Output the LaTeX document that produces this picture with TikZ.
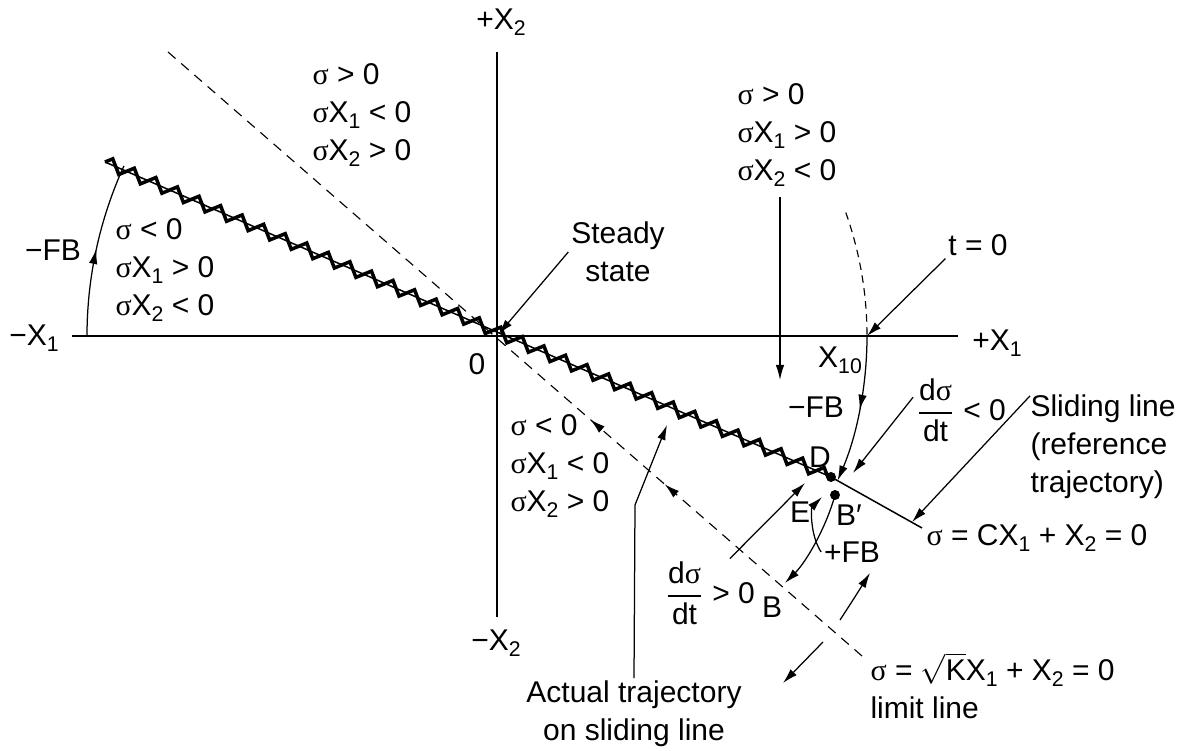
\documentclass[tikz,border=0pt]{standalone}
\usepackage{amsmath}
\usepackage{fontspec}
\setmainfont{Liberation Sans}
\newfontfamily\greekfont{Liberation Serif}
\usetikzlibrary{arrows.meta,decorations.pathmorphing,decorations.markings}
\newcommand{\gs}{{\greekfont σ}}
\newcommand{\lo}[1]{\raisebox{-2.4pt}{\fontsize{8.5}{8.5}\selectfont #1}}
\newcommand{\dsdt}{$\dfrac{\mbox{d\gs}}{\mbox{dt}}$}

\begin{document}
\begin{tikzpicture}[x=0.4pt,y=-0.4pt,>={Latex[length=6pt,width=3.4pt]},
every node/.style={font=\fontsize{12}{15.2}\selectfont,inner sep=1pt},
lbl/.style={align=left,anchor=west,inner sep=0pt},
axis/.style={line width=0.6pt},
conn/.style={->,line width=0.5pt},
limitline/.style={dash pattern=on 4pt off 3pt,line width=0.45pt},
slide/.style={line width=1.4pt,line join=miter,decorate,decoration={zigzag,segment length=9.4pt,amplitude=2.4pt}},
midarrow/.style={postaction={decorate,decoration={markings,mark=at position #1 with {\arrow{>}}}}},
dot/.style={circle,fill,inner sep=0pt,minimum size=4pt}]
\useasboundingbox (0,0) rectangle (1192,751);
\coordinate (O) at (497,336);
% axes
\draw[axis] (72,336) -- (958,336);
\draw[axis] (497,52) -- (497,617);
\node (xneg) at (34,338) {−X\lo{1}};
\node (xpos) at (997,343) {+X\lo{1}};
\node (ypos) at (501,22) {+X\lo{2}};
\node (yneg) at (496,643) {−X\lo{2}};
\node (zero) at (477,364) {0};
\node (xten) at (840,360) {X\lo{10}};
% limit line and sliding line
\coordinate (Lt) at (168,52); \coordinate (Lb) at (862,656);
\draw[limitline,postaction={decorate,decoration={markings,
  mark=at position 0.625 with {\arrow{<}},mark=at position 0.732 with {\arrow{<}}}}] (Lt) -- (Lb);
\coordinate (Zs) at (105,162); \coordinate (D) at (831,477); \coordinate (Se) at (922,528);
\draw[slide] (Zs) -- (D);
\draw[line width=0.6pt] (Zs) -- (D);
\draw[line width=0.6pt] (D) -- (Se);
\coordinate (Bp) at (835,495);
\node[dot] (Ddot) at (D) {};
\node[dot] (Bpdot) at (Bp) {};
% regions
\node[lbl] (qa) at (312,115) {\gs{} > 0\\\gs X\lo{1} < 0\\\gs X\lo{2} > 0};
\node[lbl] (qb) at (115,270) {\gs{} < 0\\\gs X\lo{1} > 0\\\gs X\lo{2} < 0};
\node[lbl] (qc) at (737,135) {\gs{} > 0\\\gs X\lo{1} > 0\\\gs X\lo{2} < 0};
\node[lbl] (qd) at (510,466) {\gs{} < 0\\\gs X\lo{1} < 0\\\gs X\lo{2} > 0};
% feedback arcs
\draw[line width=0.5pt,midarrow=0.5] (O) ++(180:410) arc[start angle=180,end angle=204.5,radius=410];
\draw[dash pattern=on 3pt off 2.2pt,line width=0.45pt] (O) ++(-19.5:370) arc[start angle=-19.5,end angle=0,radius=370];
\draw[conn,midarrow=0.5] (O) ++(0:370) arc[start angle=0,end angle=23,radius=370];
\node (fbl) at (53,250) {−FB};
\node (fbr) at (816,407) {−FB};
\node (fbp) at (852,552) {+FB};
\node (lD) at (820,457) {D};
\node (lE) at (800,512) {E};
\node (lBp) at (849,515) {B′};
\node (lB) at (772,607) {B};
% labels with arrows
\node[align=center] (steady) at (618,252) {Steady\\state};
\draw[conn,shorten >=1pt] (steady.west) -- (O);
\node (tzero) at (978,245) {t = 0};
\coordinate (Xt) at (867,336);
\draw[conn] (tzero.south west) -- (Xt);
\coordinate (dn) at (780,380);
\draw[conn,shorten <=4pt] (qc.south -| dn) -- (dn);
\node (dneg) at (961,410) {\dsdt{} < 0};
\coordinate (dnegtip) at (853,473);
\draw[conn] (dneg.165) -- (dnegtip);
\node[lbl] (slab) at (1030,447) {Sliding line\\(reference\\trajectory)};
\coordinate (Sl) at (912,522);
\draw[conn] (slab.145) -- (Sl);
\node (ceq) at (1037,538) {\gs{} = CX\lo{1} + X\lo{2} = 0};
\node[lbl] (keq) at (870,686) {\gs{} = $\sqrt{\mbox{K}}$X\lo{1} + X\lo{2} = 0\\limit line};
\node[align=center] (act) at (634,714) {Actual trajectory\\on sliding line};
\coordinate (Abend) at (635,505); \coordinate (Atip) at (667,425);
\draw[conn] (act.north) -- (Abend) -- (Atip);
\node (dpos) at (710,593) {\dsdt{} > 0};
\coordinate (dpostip) at (805,483);
\draw[conn] (dpos.60) -- (dpostip);
\coordinate (Etip) at (822,497);
\draw[conn] (fbp.west) .. controls (810,535) and (811,508) .. (Etip);
\coordinate (Btip) at (785,583);
\draw[conn] (Bp) .. controls (826,528) and (806,562) .. (Btip);
\coordinate (upS) at (840,620); \coordinate (upE) at (870,573);
\draw[conn] (upS) .. controls (853,600) .. (upE);
\coordinate (dnS) at (823,642); \coordinate (dnE) at (783,683);
\draw[conn] (dnS) -- (dnE);
\end{tikzpicture}
\end{document}
